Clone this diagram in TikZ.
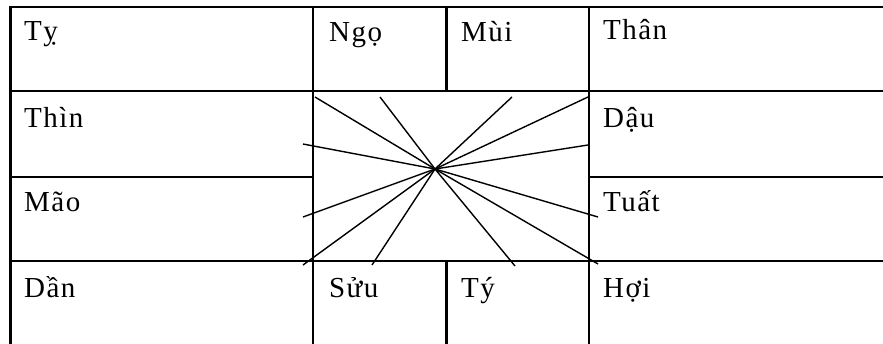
\documentclass[tikz,border=0pt]{standalone}
\usepackage{fontspec}
\setmainfont{Liberation Serif}[LetterSpace=5]
\begin{document}
\begin{tikzpicture}[x=1pt,y=-1pt,
  grid/.style={line width=2.2pt,line cap=rect},
  fan/.style={line width=1.4pt},
  lbl/.style={anchor=base west,inner sep=0pt,font=\fontsize{29}{34}\selectfont}]
\useasboundingbox (0,0) rectangle (883,344);
\fill[white] (0,0) rectangle (883,344);
% grid
\draw[grid] (10.5,344) -- (10.5,7) -- (883,7);
\draw[grid] (10.5,91) -- (883,91);
\draw[grid] (10.5,177) -- (313,177);
\draw[grid] (589,177) -- (883,177);
\draw[grid] (10.5,261) -- (883,261);
\draw[grid] (313,7) -- (313,344);
\draw[grid] (589,7) -- (589,344);
\draw[grid] (446.5,7) -- (446.5,91);
\draw[grid] (446.5,261) -- (446.5,344);
% labels
\node[lbl] (ty)   at (24,41)  {Tỵ};
\node[lbl] (ngo)  at (329,42) {Ngọ};
\node[lbl] (mui)  at (461,42) {Mùi};
\node[lbl] (than) at (603,40) {Thân};
\node[lbl] (thin) at (24,128) {Thìn};
\node[lbl] (dau)  at (603,128) {Dậu};
\node[lbl] (mao)  at (24,212) {Mão};
\node[lbl] (tuat) at (603,212) {Tuất};
\node[lbl] (dan)  at (24,298) {Dần};
\node[lbl] (suu)  at (329,298) {Sửu};
\node[lbl] (tys)  at (461,298) {Tý};
\node[lbl] (hoi)  at (603,298) {Hợi};
% fan
\coordinate (c) at (435,169);
\coordinate (e1) at (315,97);
\coordinate (e2) at (380,97);
\coordinate (e3) at (512,97);
\coordinate (e4) at (588,97);
\coordinate (e5) at (303,144);
\coordinate (e6) at (588,145);
\coordinate (e7) at (303,217);
\coordinate (e8) at (598,217);
\coordinate (e9) at (303,265);
\coordinate (e10) at (372,265);
\coordinate (e11) at (515,266);
\coordinate (e12) at (598,264);
\foreach \i in {1,...,12} \draw[fan] (c) -- (e\i);
\end{tikzpicture}
\end{document}
